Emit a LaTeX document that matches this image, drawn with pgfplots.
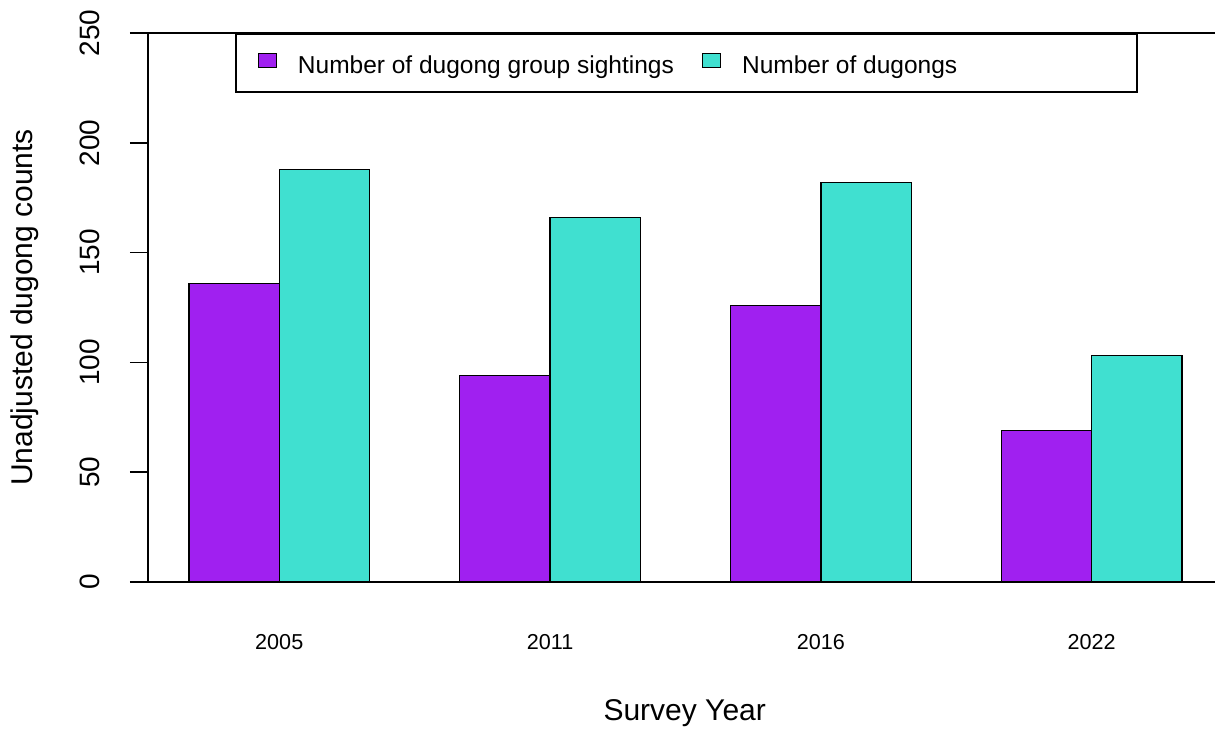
\documentclass[border=0pt]{standalone}
\usepackage{pgfplots}
\pgfplotsset{compat=1.18}
\usepackage{fontspec}
\setmainfont{Liberation Sans}
\definecolor{rpurple}{HTML}{A020F0}
\definecolor{rturq}{HTML}{40E0D0}
\begin{document}
\begin{tikzpicture}
\useasboundingbox (-74pt,-73.5pt) rectangle (533.5pt,291pt);
\begin{axis}[
  at={(0pt,0pt)}, anchor=south west,
  scale only axis, width=533.5pt, height=274.5pt,
  xmin=0.546, xmax=12.366, ymin=0, ymax=250,
  axis lines*=left,
  axis line style={line width=0.75pt},
  clip=false,
  tick align=outside,
  major tick length=9pt,
  xtick={2,5,8,11},
  xticklabels={2005,2011,2016,2022},
  xtick style={draw=none},
  ytick={0,50,100,150,200,250},
  ytick style={line width=0.75pt, black},
  /pgf/number format/assume math mode=true,
  xticklabel style={font=\fontsize{10.8}{13}\selectfont, inner sep=0pt, anchor=north},
  yticklabel style={font=\fontsize{14}{16}\selectfont, rotate=90, anchor=south, inner sep=0pt},
  xticklabel shift=17pt,
  yticklabel shift=15pt,
  xlabel={Survey Year},
  ylabel={Unadjusted dugong counts},
  label style={font=\fontsize{15}{18}\selectfont},
  xlabel style={at={(axis description cs:0.503,-0.2514)}, anchor=base},
  ylabel style={at={(axis description cs:-0.1087,0.5)}, anchor=base, rotate=0},
  legend columns=2,
  legend style={at={(axis description cs:0.08154,1)}, anchor=north west, draw=black, line width=0.75pt,
    inner xsep=11pt, inner ysep=7.5pt, font=\fontsize{12.25}{14}\selectfont,
    nodes={inner sep=0pt, text height=12.5pt, text depth=1.6pt},
    /tikz/every odd column/.style={column sep=10.5pt},
    /tikz/every even column/.style={column sep=14pt}},
  legend image code/.code={\draw[#1, draw=black, line width=0.6pt] (0pt,-2.5pt) rectangle (9pt,4.5pt);},
]
\addplot[ybar, bar width=1, bar shift=0pt, fill=rpurple, draw=black, line width=0.65pt]
  coordinates {(1.5,136) (4.5,94) (7.5,126) (10.5,69)};
\addlegendentry{Number of dugong group sightings}
\addplot[ybar, bar width=1, bar shift=0pt, fill=rturq, draw=black, line width=0.65pt]
  coordinates {(2.5,188) (5.5,166) (8.5,182) (11.5,103)};
\addlegendentry{\makebox[186.5pt][l]{Number of dugongs}}
\draw[line width=0.75pt] (axis cs:0.546,250) -- (axis cs:12.366,250);
\end{axis}
\end{tikzpicture}
\end{document}
